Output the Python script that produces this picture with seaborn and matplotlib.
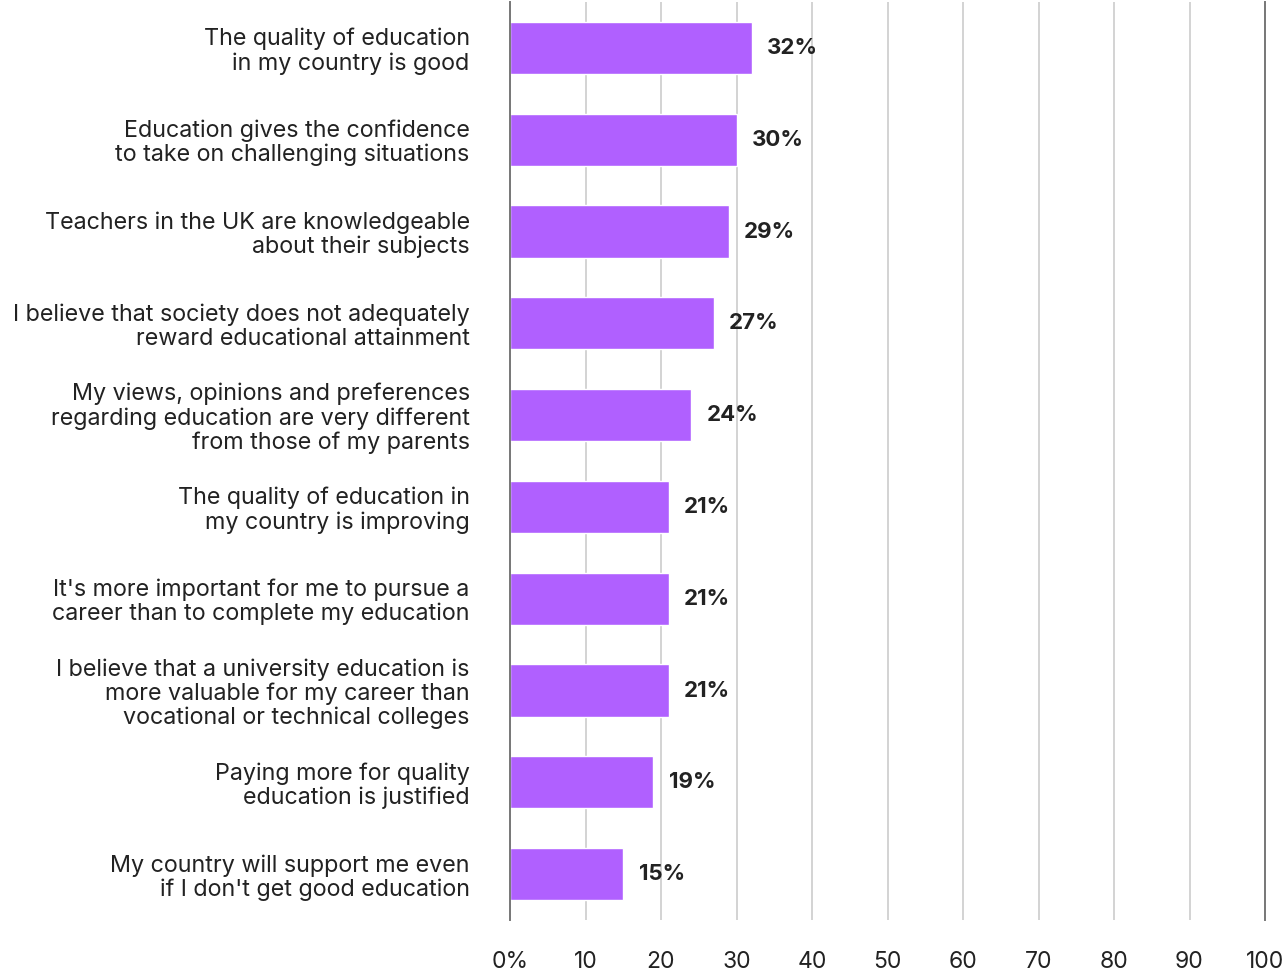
import matplotlib
matplotlib.use("Agg")
import matplotlib.pyplot as plt
import seaborn as sns
import pandas as pd

statements = [
    "The quality of education\nin my country is good",
    "Education gives the confidence\nto take on challenging situations",
    "Teachers in the UK are knowledgeable\nabout their subjects",
    "I believe that society does not adequately\nreward educational attainment",
    "My views, opinions and preferences\nregarding education are very different\nfrom those of my parents",
    "The quality of education in\nmy country is improving",
    "It's more important for me to pursue a\ncareer than to complete my education",
    "I believe that a university education is\nmore valuable for my career than\nvocational or technical colleges",
    "Paying more for quality\neducation is justified",
    "My country will support me even\nif I don't get good education",
]
shares = [32, 30, 29, 27, 24, 21, 21, 21, 19, 15]
tick_values = [0, 10, 20, 30, 40, 50, 60, 70, 80, 90, 100]
tick_labels = ["0%", "10", "20", "30", "40", "50", "60", "70", "80", "90", "100"]

df = pd.DataFrame({"statement": statements, "share": shares})

sns.set_theme(style="white")
plt.rcParams["font.family"] = ["Inter", "DejaVu Sans"]

fig = plt.figure(figsize=(12.84, 9.73), dpi=100)
ax = fig.add_axes([510 / 1284, 1 - 920 / 973, 755 / 1284, 918 / 973])

sns.barplot(data=df, x="share", y="statement", color="#B060FF",
            width=0.57, ax=ax, zorder=3, saturation=1)

ax.set_xlim(0, 100)
ax.set_ylim(9.5, -0.5)
ax.set_xticks(tick_values)
ax.set_xticklabels(tick_labels, fontsize=16.5, color="#222222")
ax.tick_params(axis="x", length=0, pad=22)
ax.tick_params(axis="y", length=0, pad=29, labelsize=16.8, labelcolor="#222222")
for lbl in ax.get_yticklabels():
    lbl.set_horizontalalignment("right")
    lbl.set_linespacing(1.1)
ax.set_xlabel("")
ax.set_ylabel("")

ax.grid(axis="x", color="#cccccc", linewidth=1.2, zorder=0)
ax.grid(axis="y", visible=False)
for side in ["top", "bottom"]:
    ax.spines[side].set_visible(False)
for side in ["left", "right"]:
    ax.spines[side].set_color("#777777")
    ax.spines[side].set_linewidth(1.4)
    ax.spines[side].set_zorder(4)

for container in ax.containers:
    ax.bar_label(container, labels=[f"{v}%" for v in shares], padding=11,
                 fontsize=16, fontweight="bold", color="#222222")

fig.savefig("out.png", dpi=100)
